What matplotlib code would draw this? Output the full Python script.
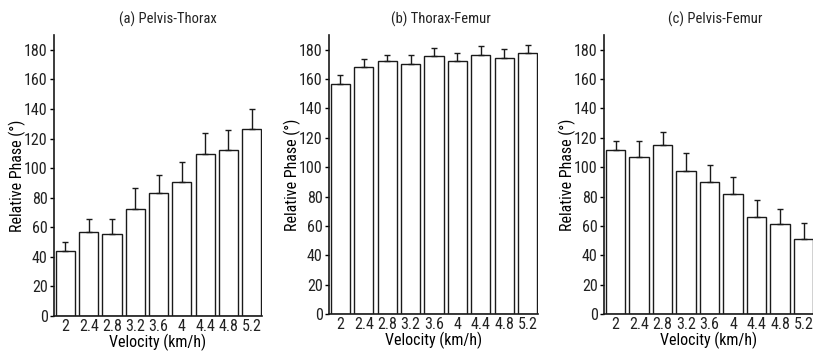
import numpy as np
import matplotlib
matplotlib.use("Agg")
import matplotlib.pyplot as plt
from matplotlib import font_manager

velocity = ["2", "2.4", "2.8", "3.2", "3.6", "4", "4.4", "4.8", "5.2"]

# mean relative phase (deg) and SD per walking speed
pelvis_thorax = [44.1, 56.6, 55.2, 72.1, 83.1, 90.7, 109.7, 112.4, 126.4]
pelvis_thorax_sd = [6.1, 9.1, 10.1, 14.4, 12.0, 13.4, 13.9, 13.3, 13.9]
thorax_femur = [156.6, 168.2, 172.0, 170.2, 175.4, 172.5, 176.4, 174.3, 177.7]
thorax_femur_sd = [5.9, 5.4, 4.1, 6.4, 5.5, 5.4, 6.3, 6.1, 5.7]
pelvis_femur = [111.7, 107.1, 114.8, 97.6, 89.7, 81.8, 66.3, 61.4, 51.4]
pelvis_femur_sd = [5.9, 10.5, 8.9, 11.8, 11.5, 11.7, 11.1, 10.4, 10.8]

titles = ["(a) Pelvis-Thorax", "(b) Thorax-Femur", "(c) Pelvis-Femur"]


def pick_font(names):
    for n in names:
        try:
            font_manager.findfont(n, fallback_to_default=False)
            return n
        except Exception:
            pass
    return "DejaVu Sans"


font = pick_font(["Liberation Sans Narrow", "Roboto Condensed", "DejaVu Sans Condensed"])
plt.rcParams["font.family"] = [font, "DejaVu Sans"]
plt.rcParams["font.size"] = 11
plt.rcParams["text.color"] = "#222222"

fig = plt.figure(figsize=(8.13, 3.51), dpi=100)

# axes boxes in pixels: left, right, y of zero line
boxes = [(54, 262, 316), (329, 538, 314), (604, 814, 314)]
title_x = [168, 441, 715]
data = [(pelvis_thorax, pelvis_thorax_sd),
        (thorax_femur, thorax_femur_sd),
        (pelvis_femur, pelvis_femur_sd)]

W, H = 813.0, 351.0
x = np.arange(len(velocity))
for (l, r, b), (means, sds), t, tx in zip(boxes, data, titles, title_x):
    top = 35
    ax = fig.add_axes([l / W, 1 - b / H, (r - l) / W, (b - top) / H])
    ax.bar(x, means, width=0.82, color="white", edgecolor="#1a1a1a", linewidth=1.0, zorder=2)
    ax.errorbar(x, means, yerr=[np.zeros(len(sds)), sds], fmt="none", ecolor="#1a1a1a",
                elinewidth=1.0, capsize=2.5, capthick=1.0, zorder=3)
    ax.set_xlim(-0.49, 8.44)
    ax.set_ylim(0, 190)
    ax.set_yticks(np.arange(0, 181, 20))
    ax.set_xticks(x)
    ax.set_xticklabels(velocity)
    ax.tick_params(axis="x", length=0, pad=2, labelsize=11.5, colors="#222222")
    ax.tick_params(axis="y", length=3, width=1, pad=1.5, direction="out",
                   labelsize=11.5, labelcolor="#222222")
    for s in ["top", "right"]:
        ax.spines[s].set_visible(False)
    for s in ["left", "bottom"]:
        ax.spines[s].set_linewidth(1.2)
        ax.spines[s].set_color("#1a1a1a")
    ax.set_ylabel("Relative Phase (°)", fontsize=11.5)
    ax.yaxis.set_label_coords(-28.0 / (r - l), 0.5)
    ax.set_xlabel("Velocity (km/h)", labelpad=0, fontsize=11.5)
    fig.text(tx / W, 1 - 19 / H, t, ha="center", va="center", fontsize=10.5)

fig.savefig("out.png", dpi=100)
